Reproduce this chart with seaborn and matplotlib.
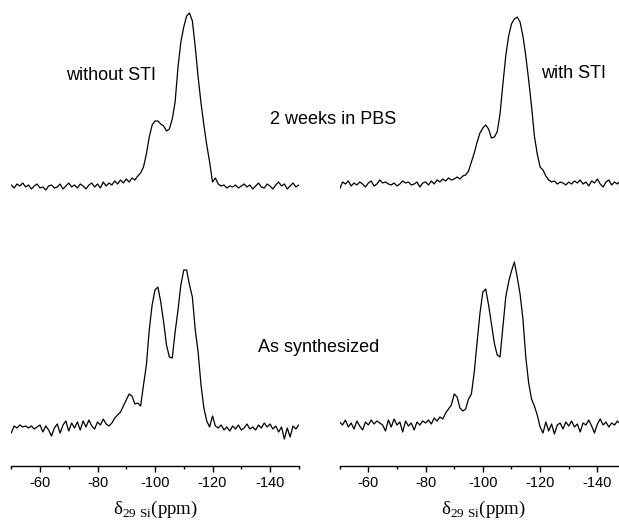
import numpy as np
import pandas as pd
import matplotlib
matplotlib.use("Agg")
import matplotlib.pyplot as plt
import seaborn as sns
from matplotlib.ticker import MultipleLocator

sns.set_style("ticks")
plt.rcParams['font.family'] = ['Liberation Sans', 'DejaVu Sans']
plt.rcParams['mathtext.fontset'] = 'custom'
plt.rcParams['mathtext.rm'] = 'Liberation Serif'
plt.rcParams['text.color'] = 'black'
plt.rcParams['xtick.color'] = 'black'
plt.rcParams['axes.edgecolor'] = 'black'

# chemical shift grid (ppm), one point per ppm from -50 to -150
ppm = list(range(-50, -151, -1))

# intensities (arbitrary units, above each trace's baseline)
without_sti_pbs = [
    2, -1, 3, 1, 4, 0, 2, -2, 1, 3, -1,
    0, -3, 1, 2, -1, 0, 3, -2, 1, 4,
    0, 2, -1, 3, 1, -2, 2, 4, 0, 3,
    -1, 5, 1, 4, 2, 6, 3, 7, 4, 8,
    5, 9, 7, 11, 14, 20, 33, 50, 62, 66,
    66, 63, 61, 56, 58, 68, 85, 120, 145, 160,
    171, 174, 166, 140, 110, 84, 62, 42, 25, 5,
    9, 3, 1, 2, -1, 1, 0, 2, -1, 1,
    3, 0, 2, -2, 1, 4, 0, -1, 3, 1,
    -2, 2, 5, 1, 3, -2, 1, 4, 0, 2]

without_sti_synth = [
    -3, 4, 2, 5, 3, 4, 2, 4, 1, 3, 5,
    -2, 4, 0, -6, 2, 6, -3, 5, 9, -1,
    7, 2, 8, 0, 9, 3, 10, 4, 1, 8,
    5, 11, 6, 4, 7, 12, 15, 18, 24, 30,
    36, 34, 26, 27, 24, 45, 65, 100, 125, 140,
    143, 128, 108, 85, 73, 72, 98, 120, 145, 160,
    160, 145, 133, 100, 78, 45, 22, 9, 3, 14,
    4, 2, 5, 0, 3, -1, 4, 1, 5, 0,
    2, 6, 1, 3, 0, 5, 2, 7, 3, 6,
    1, 4, -2, 3, -9, 2, -7, 4, 1, 5]

with_sti_pbs = [
    -5, 2, 0, 3, -2, 1, -1, 2, 0, -3, 1,
    3, -2, 0, 4, 1, 2, 0, -1, 1, -2,
    0, 3, 1, 2, -1, 0, 2, -3, 1, 2,
    -1, 3, 0, 4, 2, 5, 3, 6, 4, 5,
    7, 5, 8, 9, 13, 22, 31, 42, 51, 56,
    59, 55, 46, 47, 52, 70, 100, 128, 148, 160,
    165, 167, 162, 148, 128, 104, 78, 48, 30, 17,
    14, 8, 4, 2, 3, 0, 2, 1, -1, 2,
    0, 3, 1, 4, 0, 2, -2, 3, 1, 5,
    0, -3, 2, 4, -1, 2, 0, 3, 1, 2]

with_sti_synth = [
    5, 2, 7, 0, 4, -2, 6, 1, -3, 5, 2,
    7, 3, 6, 4, 2, -4, 7, 0, 8, 2,
    5, -5, 6, 1, 4, -3, 5, 2, 6, 4,
    7, 3, 9, 6, 10, 8, 14, 18, 22, 33,
    30, 19, 16, 18, 28, 33, 55, 85, 114, 135,
    138, 122, 103, 84, 72, 70, 100, 130, 145, 156,
    165, 150, 133, 108, 70, 44, 28, 21, 12, 0,
    -6, 5, -4, 3, -7, 2, 4, -2, 5, 1,
    6, 0, 3, -5, 4, 2, 7, 1, -6, 3,
    8, 2, 5, 0, 4, 2, 6, 3, 1, 4]

panel_labels = ["without STI", "with STI"]
row_labels = ["2 weeks in PBS", "As synthesized"]
xticks = [-60, -80, -100, -120, -140]

W, H = 619, 521
fig = plt.figure(figsize=(W / 100, H / 100), dpi=100)

spine_y = 466
ax_h = spine_y / H
axL = fig.add_axes([11.25 / W, (H - spine_y) / H, 287.5 / W, ax_h])
axR = fig.add_axes([339.7 / W, (H - spine_y) / H, 286.3 / W, ax_h])

panels = [
    (axL, without_sti_pbs, without_sti_synth, 466 - 187, 466 - 430),
    (axR, with_sti_pbs, with_sti_synth, 466 - 184, 466 - 427),
]

for ax, top, bot, off_top, off_bot in panels:
    df = pd.DataFrame({"ppm": ppm,
                       "top": np.array(top) + off_top,
                       "bot": np.array(bot) + off_bot})
    sns.lineplot(data=df, x="ppm", y="top", ax=ax, color="black",
                 linewidth=0.9, sort=False)
    sns.lineplot(data=df, x="ppm", y="bot", ax=ax, color="black",
                 linewidth=0.9, sort=False)
    ax.set_xlim(-50, -150)
    ax.set_ylim(0, spine_y)
    ax.patch.set_alpha(0)
    for s in ["top", "right", "left"]:
        ax.spines[s].set_visible(False)
    ax.spines["bottom"].set_linewidth(1.0)
    ax.set_yticks([])
    ax.set_ylabel("")
    ax.set_xticks(xticks)
    ax.set_xticklabels([str(t) for t in xticks], fontsize=10.5)
    ax.xaxis.set_minor_locator(MultipleLocator(10))
    ax.tick_params(axis="x", which="major", length=4, width=1.0, direction="out", pad=3,
                   labelcolor="black")
    ax.tick_params(axis="x", which="minor", length=2, width=1.0, direction="out")
    ax.set_xlabel("")

# x-axis labels (serif, with subscript)
for cx in [155, 155 + 328.5]:
    fig.text(cx / W, 1 - 509 / H, r"δ$_{\mathrm{29\ Si}}$(ppm)",
             fontsize=13.5, family="Liberation Serif", ha="center", va="center",
             color="black")

fig.text(111 / W, 1 - 75 / H, panel_labels[0], fontsize=13, ha="center", va="center")
fig.text(574 / W, 1 - 73 / H, panel_labels[1], fontsize=13, ha="center", va="center")
fig.text(333 / W, 1 - 119 / H, row_labels[0], fontsize=13, ha="center", va="center")
fig.text(319 / W, 1 - 348 / H, row_labels[1], fontsize=13, ha="center", va="center")

fig.savefig("out.png", dpi=100)
